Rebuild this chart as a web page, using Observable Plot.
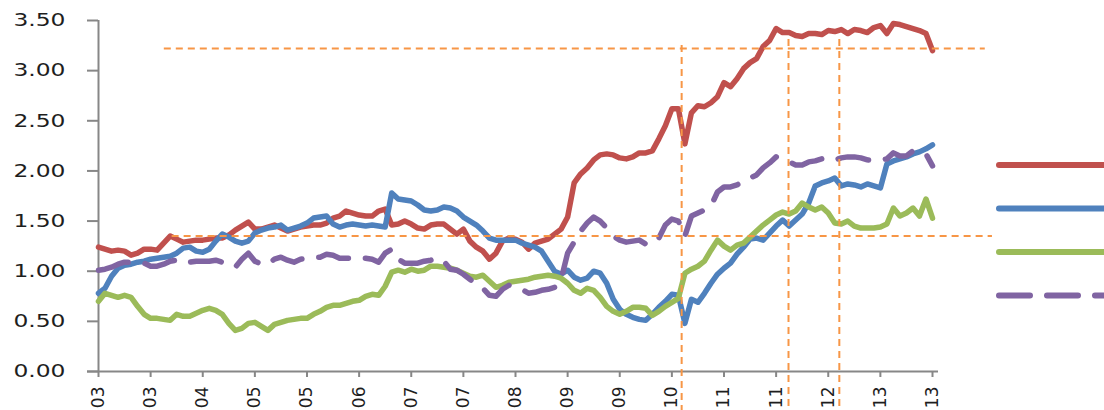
<!DOCTYPE html>
<html>
<head>
<meta charset="utf-8">
<script src="https://cdn.jsdelivr.net/npm/d3@7"></script>
<script src="https://cdn.jsdelivr.net/npm/@observablehq/plot@0.6"></script>
<style>
  html, body { margin: 0; padding: 0; background: #fff; overflow: hidden; }
  #wrap { position: relative; width: 1104px; height: 410px; }
  #legend { position: absolute; left: 996px; top: 0; }
</style>
</head>
<body>
<div id="wrap"><div id="chart"></div><svg id="legend" width="108" height="410"></svg></div>
<script>
// Monthly observations, Jan 2003 .. Sep 2013 (129 months)
const xTickLabels = ["03","03","04","05","05","06","07","07","08","09","09","10","11","11","12","13","13"];
const xTickPos = d3.range(0, 129, 8);
const yTicks = [0, 0.5, 1, 1.5, 2, 2.5, 3, 3.5];

const red = [1.24,1.22,1.20,1.21,1.20,1.16,1.18,1.22,1.22,1.21,
  1.28,1.35,1.32,1.29,1.30,1.31,1.31,1.32,1.33,1.33,
  1.36,1.41,1.45,1.49,1.42,1.42,1.44,1.46,1.43,1.40,
  1.42,1.44,1.45,1.46,1.46,1.48,1.53,1.55,1.60,1.58,
  1.56,1.55,1.55,1.60,1.62,1.46,1.47,1.50,1.47,1.43,
  1.42,1.46,1.47,1.47,1.42,1.37,1.42,1.30,1.24,1.20,
  1.12,1.18,1.30,1.33,1.32,1.29,1.22,1.28,1.30,1.32,
  1.37,1.42,1.54,1.88,1.97,2.03,2.11,2.16,2.17,2.16,
  2.13,2.12,2.14,2.18,2.18,2.20,2.32,2.45,2.62,2.62,
  2.27,2.58,2.65,2.64,2.68,2.74,2.88,2.84,2.92,3.02,
  3.08,3.12,3.24,3.30,3.42,3.38,3.38,3.35,3.34,3.37,
  3.37,3.36,3.40,3.39,3.41,3.37,3.41,3.40,3.38,3.43,
  3.45,3.37,3.47,3.46,3.44,3.42,3.40,3.37,3.20];

const blue = [0.78,0.83,0.95,1.03,1.06,1.07,1.09,1.10,1.12,1.13,
  1.14,1.15,1.18,1.23,1.24,1.20,1.19,1.22,1.30,1.37,
  1.34,1.30,1.28,1.30,1.38,1.41,1.43,1.44,1.46,1.41,
  1.43,1.45,1.48,1.53,1.54,1.55,1.47,1.44,1.46,1.47,
  1.46,1.45,1.46,1.45,1.44,1.78,1.72,1.71,1.70,1.66,
  1.61,1.60,1.61,1.64,1.63,1.60,1.54,1.50,1.46,1.40,
  1.33,1.31,1.31,1.31,1.31,1.28,1.26,1.24,1.20,1.10,
  1.00,0.97,1.01,0.94,0.91,0.93,1.00,0.98,0.88,0.72,
  0.62,0.57,0.54,0.52,0.51,0.57,0.64,0.70,0.77,0.76,
  0.48,0.72,0.69,0.78,0.88,0.97,1.03,1.08,1.17,1.24,
  1.32,1.33,1.31,1.38,1.45,1.51,1.45,1.51,1.57,1.68,
  1.85,1.88,1.90,1.93,1.85,1.87,1.86,1.84,1.87,1.85,
  1.83,2.07,2.10,2.12,2.14,2.17,2.19,2.22,2.26];

const green = [0.70,0.78,0.76,0.74,0.76,0.74,0.65,0.57,0.53,0.53,
  0.52,0.51,0.57,0.55,0.55,0.58,0.61,0.63,0.61,0.57,
  0.48,0.41,0.43,0.48,0.49,0.45,0.41,0.47,0.49,0.51,
  0.52,0.53,0.53,0.57,0.60,0.64,0.66,0.66,0.68,0.70,
  0.71,0.75,0.77,0.76,0.85,0.99,1.01,0.99,1.02,1.00,
  1.01,1.05,1.05,1.04,1.03,1.01,0.98,0.95,0.94,0.96,
  0.90,0.84,0.86,0.89,0.90,0.91,0.92,0.94,0.95,0.96,
  0.95,0.93,0.88,0.81,0.78,0.83,0.81,0.74,0.65,0.60,
  0.57,0.60,0.64,0.64,0.63,0.56,0.60,0.65,0.69,0.73,
  0.98,1.02,1.05,1.10,1.21,1.31,1.25,1.21,1.26,1.28,
  1.34,1.40,1.46,1.51,1.56,1.59,1.57,1.60,1.68,1.64,
  1.61,1.64,1.58,1.48,1.47,1.50,1.45,1.43,1.43,1.43,
  1.44,1.47,1.63,1.55,1.58,1.63,1.55,1.72,1.53];

const purple = [1.01,1.02,1.04,1.07,1.09,1.09,1.09,1.08,1.05,1.05,
  1.07,1.10,1.11,1.08,1.09,1.10,1.10,1.10,1.11,1.09,
  1.07,1.04,1.12,1.18,1.10,1.07,1.07,1.12,1.14,1.11,
  1.09,1.12,1.13,1.14,1.14,1.17,1.16,1.13,1.13,1.13,
  1.13,1.13,1.12,1.09,1.18,1.22,1.12,1.08,1.08,1.08,
  1.10,1.11,1.13,1.10,1.02,1.01,0.97,0.92,0.87,0.83,
  0.76,0.75,0.82,0.86,0.84,0.82,0.78,0.79,0.81,0.82,
  0.84,0.92,1.18,1.29,1.40,1.48,1.54,1.50,1.43,1.35,
  1.31,1.29,1.30,1.31,1.27,1.27,1.33,1.46,1.52,1.50,
  1.35,1.55,1.58,1.61,1.65,1.79,1.84,1.84,1.86,1.90,
  1.93,1.96,2.03,2.08,2.14,2.12,2.09,2.06,2.06,2.09,
  2.10,2.12,2.10,2.11,2.13,2.14,2.14,2.13,2.11,2.10,
  2.11,2.12,2.18,2.15,2.15,2.20,2.18,2.17,2.05];

// Orange dashed reference lines (in data units: month index / value)
const hRefs = [{y: 3.22, x1: 10.1, x2: 136.1}, {y: 1.35, x1: 11.3, x2: 137.2}];
const vRefs = [{x: 89.5, y1: 3.25, y2: -0.40}, {x: 105.9, y1: 3.31, y2: -0.40}, {x: 113.7, y1: 3.31, y2: -0.40}];

const series = [
  {values: red,    color: "#C0504D", dash: null},
  {values: blue,   color: "#4F81BD", dash: null},
  {values: green,  color: "#9BBB59", dash: null},
  {values: purple, color: "#8064A2", dash: "31,17"}
];

const axisGray = "#878787";
const orange = "#F79646";

const lineMarks = series.map(s => Plot.line(s.values, {
  x: (d, i) => i, y: d => d,
  stroke: s.color, strokeWidth: 5.5,
  strokeLinejoin: "round", strokeLinecap: "round",
  strokeDasharray: s.dash ?? undefined
}));

const chart = Plot.plot({
  width: 1104, height: 410,
  marginLeft: 98, marginRight: 172, marginTop: 20, marginBottom: 39,
  x: {domain: [0, 128], axis: null},
  y: {domain: [0, 3.5], axis: null},
  style: {fontFamily: "'DejaVu Sans', Verdana, sans-serif", background: "#fff", overflow: "visible"},
  marks: [
    Plot.axisY({ticks: yTicks, tickFormat: d3.format(".2f"), tickSize: 11, tickPadding: 22,
      stroke: axisGray, strokeWidth: 2, fill: "#1e1e1e", fontSize: 18}),
    Plot.axisX({ticks: xTickPos, tickFormat: d => xTickLabels[xTickPos.indexOf(d)], tickRotate: -90,
      tickSize: 6, tickPadding: 9, stroke: axisGray, strokeWidth: 2, fill: "#1e1e1e", fontSize: 17}),
    Plot.ruleX([0], {stroke: axisGray, strokeWidth: 2}),
    Plot.ruleY([0], {stroke: axisGray, strokeWidth: 2, insetLeft: -11, insetRight: -6}),
    ...lineMarks,
    Plot.ruleY(hRefs, {y: "y", x1: "x1", x2: "x2", stroke: orange, strokeWidth: 2, strokeDasharray: "7,5"}),
    Plot.ruleX(vRefs, {x: "x", y1: "y1", y2: "y2", stroke: orange, strokeWidth: 2, strokeDasharray: "7,5"})
  ]
});
document.getElementById("chart").appendChild(chart);

// widen y tick labels horizontally (reference text is horizontally stretched)
chart.querySelectorAll('g[aria-label="y-axis tick label"] text').forEach(t => {
  const tr = t.getAttribute("transform");
  if (tr) t.setAttribute("transform", tr + " scale(1.3,1)");
  else {
    const x = t.getAttribute("x") || 0, y = t.getAttribute("y") || 0;
    t.removeAttribute("x"); t.removeAttribute("y");
    t.setAttribute("transform", `translate(${x},${y}) scale(1.3,1)`);
  }
});

// legend swatches (labels fall outside the visible window)
const lg = d3.select("#legend");
series.forEach((s, k) => {
  lg.append("line")
    .attr("x1", 3).attr("x2", 130)
    .attr("y1", 165 + k * 43.5).attr("y2", 165 + k * 43.5)
    .attr("stroke", s.color).attr("stroke-width", 6)
    .attr("stroke-linecap", "round")
    .attr("stroke-dasharray", s.dash);
});
</script>
</body>
</html>
